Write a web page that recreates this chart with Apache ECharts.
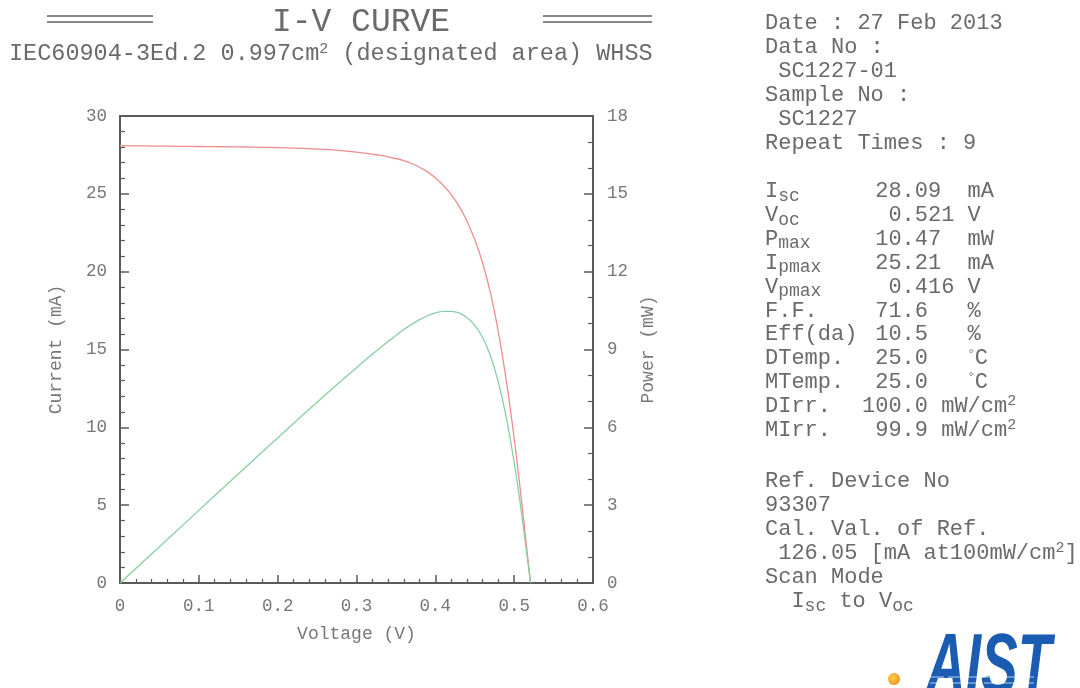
<!DOCTYPE html>
<html>
<head>
<meta charset="utf-8">
<title>I-V CURVE</title>
<script src="https://cdn.jsdelivr.net/npm/echarts@6/dist/echarts.min.js"></script>
<style>
  html, body { margin: 0; padding: 0; background: #fff; }
  #chart { width: 1080px; height: 688px; }
</style>
</head>
<body>
<div id="chart"></div>
<script>
// values
const voltage = [0, 0.02, 0.04, 0.06, 0.08, 0.10, 0.12, 0.14, 0.16, 0.18, 0.20, 0.22, 0.24, 0.26, 0.28,
  0.30, 0.31, 0.32, 0.33, 0.34, 0.35, 0.36, 0.37, 0.38, 0.39, 0.40, 0.41, 0.42, 0.43, 0.44, 0.45,
  0.46, 0.47, 0.48, 0.49, 0.50, 0.51, 0.52, 0.521]
const current = [28.09, 28.08, 28.07, 28.06, 28.05, 28.04, 28.03, 28.02, 28.01, 27.99, 27.97, 27.94, 27.90, 27.85, 27.78,
  27.68, 27.62, 27.55, 27.47, 27.38, 27.27, 27.13, 26.95, 26.71, 26.41, 26.03, 25.55, 24.96, 24.21, 23.26, 22.06,
  20.56, 18.62, 16.10, 13.00, 9.30, 5.00, 0.35, 0]
const power = [0, 0.56, 1.12, 1.68, 2.24, 2.80, 3.36, 3.92, 4.48, 5.04, 5.59, 6.15, 6.70, 7.24, 7.78,
  8.30, 8.56, 8.82, 9.07, 9.31, 9.54, 9.77, 9.97, 10.15, 10.30, 10.41, 10.47, 10.47, 10.41, 10.23, 9.93,
  9.46, 8.75, 7.73, 6.37, 4.65, 2.55, 0.18, 0]

const headerLines = ['Date : 27 Feb 2013', 'Data No :', ' SC1227-01', 'Sample No :', ' SC1227', 'Repeat Times : 9']
const paramLabels = ['I{sub|sc}', 'V{sub|oc}', 'P{sub|max}', 'I{sub|pmax}', 'V{sub|pmax}', 'F.F.', 'Eff(da)',
  'DTemp.', 'MTemp.', 'DIrr.', 'MIrr.']
const paramValues = [' 28.09  mA', '  0.521 V', ' 10.47  mW', ' 25.21  mA', '  0.416 V', ' 71.6   %', ' 10.5   %',
  ' 25.0   {deg|°}C', ' 25.0   {deg|°}C', '100.0 mW/cm{sup|2}', ' 99.9 mW/cm{sup|2}']
const footerLines = ['Ref. Device No', '93307', 'Cal. Val. of Ref.', ' 126.05 [mA at100mW/cm{sup|2}]',
  'Scan Mode', '  I{sub|sc} to V{sub|oc}']

const MONO = '"Liberation Mono", "DejaVu Sans Mono", monospace'
const TXT = '#6a6a6a'
const AX = '#5a5a5a'

const rich = {
  sub: { fontFamily: MONO, fontSize: 18, fill: TXT, padding: [9, 0, 0, 0] },
  sup: { fontFamily: MONO, fontSize: 15, fill: TXT, padding: [0, 0, 10, 0] },
  deg: { fontFamily: MONO, fontSize: 12, fill: TXT, padding: [0, 0, 8, 0] }
}

const textEl = (text, x, y, size, extra) => ({
  type: 'text',
  x: x,
  y: y,
  silent: true,
  style: Object.assign({
    text: text,
    fontFamily: MONO,
    fontSize: size,
    fill: TXT,
    align: 'left',
    verticalAlign: 'middle',
    rich: rich
  }, extra || {})
})

const graphics = []
// title block
graphics.push(textEl('I-V CURVE', 361, 22, 33, { align: 'center', fill: '#6a6a6a' }))
;[[47, 153], [543, 652]].forEach(([a, b]) => {
  graphics.push({ type: 'line', silent: true, shape: { x1: a, y1: 16, x2: b, y2: 16 }, style: { stroke: '#888', lineWidth: 2 } })
  graphics.push({ type: 'line', silent: true, shape: { x1: a, y1: 22, x2: b, y2: 22 }, style: { stroke: '#888', lineWidth: 2 } })
})
graphics.push(textEl('IEC60904-3Ed.2 0.997cm{sup|2} (designated area) WHSS', 9, 54, 23.5, { fill: '#6a6a6a' }))

// info panel
headerLines.forEach((t, i) => graphics.push(textEl(t, 765, 23.5 + i * 23.9, 22)))
paramLabels.forEach((t, i) => graphics.push(textEl(t, 765, 191.5 + i * 23.85, 22)))
paramValues.forEach((t, i) => graphics.push(textEl(t, 862, 191.5 + i * 23.85, 22)))
footerLines.forEach((t, i) => graphics.push(textEl(t, 765, 481.5 + i * 24, 22)))

// AIST logo
graphics.push({
  type: 'circle', silent: true,
  shape: { cx: 894, cy: 679, r: 6 },
  style: {
    fill: new echarts.graphic.RadialGradient(0.4, 0.4, 0.7, [
      { offset: 0, color: '#ffd34d' }, { offset: 1, color: '#f08a1c' }
    ])
  }
})
graphics.push({
  type: 'text', silent: true, x: 926, y: 626, scaleX: 0.64, scaleY: 1,
  style: {
    text: 'AIST',
    font: 'italic bold 86px "Liberation Sans", Arial, sans-serif',
    fill: '#1b5cb3', align: 'left', verticalAlign: 'top'
  }
})
;[677, 683].forEach(y => graphics.push({
  type: 'line', silent: true, shape: { x1: 930, y1: y, x2: 1040, y2: y },
  style: { stroke: 'rgba(255,255,255,0.7)', lineWidth: 1.2, lineDash: [14, 4] }
}))

const axisText = { fontFamily: MONO, fontSize: 17.5, color: '#777' }
const nameText = { fontFamily: MONO, fontSize: 18, color: '#777' }

const chart = echarts.init(document.getElementById('chart'), null, { renderer: 'canvas' })
chart.setOption({
  backgroundColor: '#fff',
  animation: false,
  grid: {
    left: 120, top: 116, width: 473, height: 467,
    show: true, borderColor: AX, borderWidth: 2,
    containLabel: false, outerBoundsMode: 'none'
  },
  xAxis: {
    type: 'value', min: 0, max: 0.6, interval: 0.1,
    name: 'Voltage (V)', nameLocation: 'middle', nameGap: 42, nameTextStyle: nameText,
    axisLine: { onZero: false, lineStyle: { color: AX, width: 2 } },
    axisTick: { inside: true, length: 8, lineStyle: { color: AX, width: 1.5 } },
    minorTick: { show: true, splitNumber: 5, length: 4, lineStyle: { color: AX, width: 1.2 } },
    axisLabel: Object.assign({ margin: 14, showMinLabel: true, showMaxLabel: true }, axisText),
    splitLine: { show: false }
  },
  yAxis: [
    {
      type: 'value', min: 0, max: 30, interval: 5, position: 'left',
      name: 'Current (mA)', nameLocation: 'middle', nameGap: 55, nameRotate: 90, nameTextStyle: nameText,
      axisLine: { show: true, onZero: false, lineStyle: { color: AX, width: 2 } },
      axisTick: { show: true, inside: true, length: 9, lineStyle: { color: AX, width: 1.5 } },
      minorTick: { show: true, splitNumber: 5, length: 5, lineStyle: { color: AX, width: 1.2 } },
      axisLabel: Object.assign({ margin: 13, showMinLabel: true, showMaxLabel: true }, axisText),
      splitLine: { show: false }
    },
    {
      type: 'value', min: 0, max: 18, interval: 3, position: 'right',
      name: 'Power (mW)', nameLocation: 'middle', nameGap: 46, nameRotate: 90, nameTextStyle: nameText,
      axisLine: { show: true, onZero: false, lineStyle: { color: AX, width: 2 } },
      axisTick: { show: true, inside: true, length: 9, lineStyle: { color: AX, width: 1.5 } },
      minorTick: { show: true, splitNumber: 3, length: 5, lineStyle: { color: AX, width: 1.2 } },
      axisLabel: Object.assign({ margin: 14, showMinLabel: true, showMaxLabel: true }, axisText),
      splitLine: { show: false }
    }
  ],
  series: [
    {
      name: 'Current', type: 'line', yAxisIndex: 0,
      data: voltage.map((v, i) => [v, current[i]]),
      showSymbol: false, smooth: 0.3,
      lineStyle: { color: '#f08c8c', width: 1.3 }
    },
    {
      name: 'Power', type: 'line', yAxisIndex: 1,
      data: voltage.map((v, i) => [v, power[i]]),
      showSymbol: false, smooth: 0.3,
      lineStyle: { color: '#88cfa2', width: 1.3 }
    }
  ],
  graphic: { elements: graphics }
})
</script>
</body>
</html>
